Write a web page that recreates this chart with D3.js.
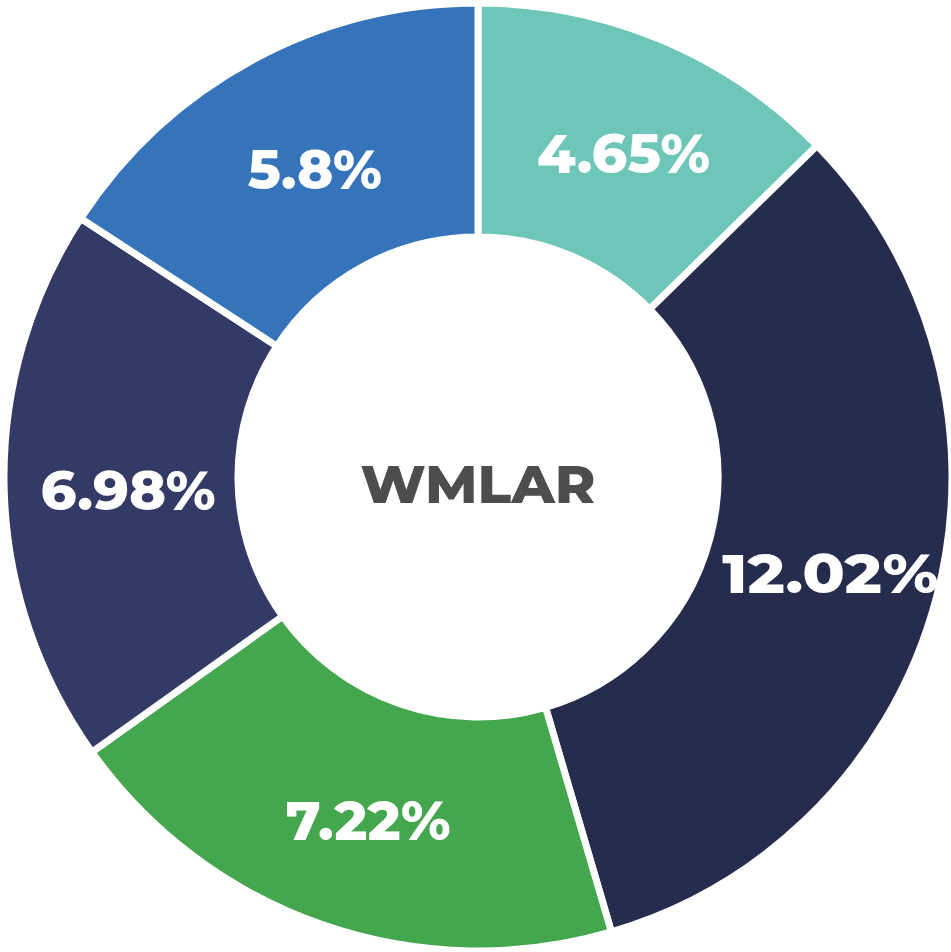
<!DOCTYPE html>
<html>
<head>
<meta charset="utf-8">
<script src="https://cdn.jsdelivr.net/npm/d3@7"></script>
<style>
  html, body { margin: 0; padding: 0; background: #ffffff; }
  svg { display: block; }
</style>
</head>
<body>
<div id="chart"></div>
<script>
const categories = ["A", "B", "C", "D", "E"];
const values = [4.65, 12.02, 7.22, 6.98, 5.8];
const labels = ["4.65%", "12.02%", "7.22%", "6.98%", "5.8%"];
const colors = ["#6EC6B9", "#252C4E", "#44A64D", "#343A66", "#3574BA"];
const centerLabel = "WMLAR";

const width = 951, height = 952;
const cx = 478, cy = 477;
const outerR = 474, innerR = 240;

const svg = d3.select("#chart").append("svg")
  .attr("width", width).attr("height", height);

const g = svg.append("g").attr("transform", `translate(${cx},${cy})`);

const pie = d3.pie().value(d => d.v).sort(null);
const data = categories.map((c, i) => ({ c, v: values[i], label: labels[i], color: colors[i] }));
const arcs = pie(data);

const arc = d3.arc().innerRadius(innerR).outerRadius(outerR);

g.selectAll("path").data(arcs).join("path")
  .attr("d", arc)
  .attr("fill", d => d.data.color)
  .attr("stroke", "#ffffff")
  .attr("stroke-width", 7)
  .attr("stroke-linejoin", "miter");

const labelWidths = {"4.65%": 173, "12.02%": 216, "7.22%": 165, "6.98%": 175, "5.8%": 134};

g.selectAll("text.lbl").data(arcs).join("text")
  .attr("class", "lbl")
  .attr("x", d => arc.centroid(d)[0] + 7)
  .attr("y", d => arc.centroid(d)[1] + 6)
  .attr("text-anchor", "middle")
  .attr("dominant-baseline", "central")
  .attr("fill", "#ffffff")
  .style("font-family", "Montserrat, 'Open Sans', Lato, sans-serif")
  .style("font-weight", 800)
  .style("font-size", "55px")
  .attr("textLength", d => labelWidths[d.data.label])
  .attr("lengthAdjust", "spacingAndGlyphs")
  .text(d => d.data.label);

g.append("text")
  .attr("x", 0).attr("y", 7)
  .attr("text-anchor", "middle")
  .attr("dominant-baseline", "central")
  .attr("fill", "#4D4D4D")
  .style("font-family", "Montserrat, 'Open Sans', Lato, sans-serif")
  .style("font-weight", 800)
  .style("font-size", "52px")
  .attr("textLength", 235)
  .attr("lengthAdjust", "spacingAndGlyphs")
  .text(centerLabel);
</script>
</body>
</html>
